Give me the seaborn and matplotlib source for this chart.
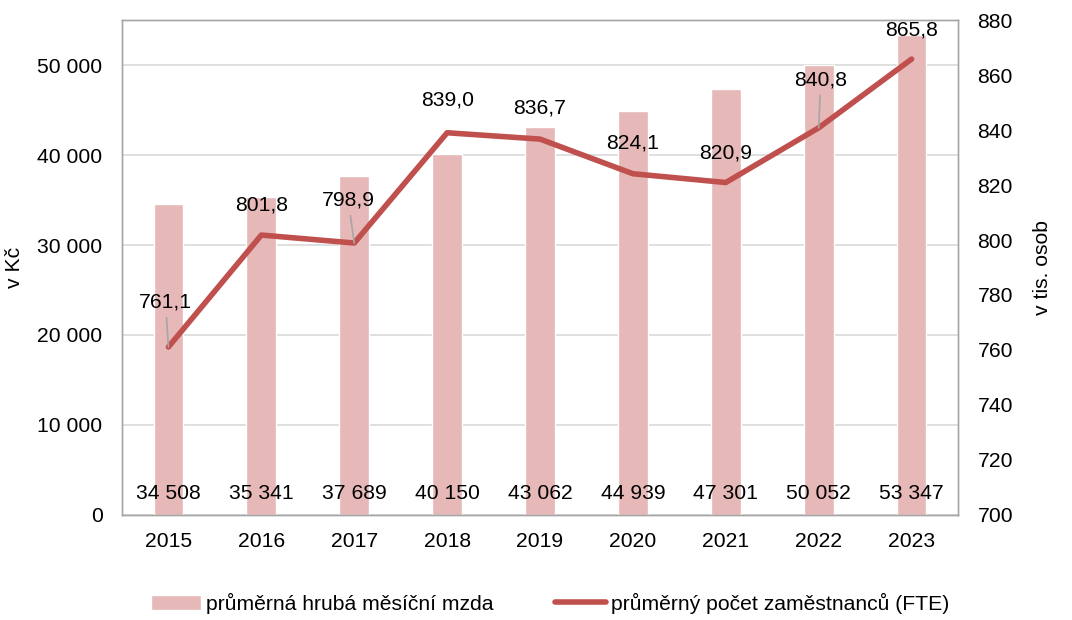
import numpy as np
import pandas as pd
import seaborn as sns
import matplotlib.pyplot as plt
from matplotlib.ticker import FuncFormatter

# data
years = ['2015', '2016', '2017', '2018', '2019', '2020', '2021', '2022', '2023']
wage = [34508, 35341, 37689, 40150, 43062, 44939, 47301, 50052, 53347]
staff = [761.1, 801.8, 798.9, 839.0, 836.7, 824.1, 820.9, 840.8, 865.8]

# label offsets above the line points (pixels) and which ones get a leader line
lab_dy = [45, 30, 43, 33, 31, 31, 30, 48, 29]
lab_dx = [-3, 0, -6, 0, 0, 0, 0, 2, 0]
leader = [True, False, True, False, False, False, False, True, False]

bar_col = '#E6B8B7'
line_col = '#C0504D'

sns.set_style('white')
plt.rcParams['font.family'] = ['Liberation Sans', 'DejaVu Sans']
plt.rcParams['text.color'] = 'black'
plt.rcParams['axes.labelcolor'] = 'black'
plt.rcParams['xtick.color'] = 'black'
plt.rcParams['ytick.color'] = 'black'

FS = 15.2

df = pd.DataFrame({'rok': years, 'mzda': wage, 'pocet': staff})

fig = plt.figure(figsize=(10.72, 6.2), dpi=100)
ax = fig.add_axes([0.1138, 0.1694, 0.7799, 0.7983])

sns.barplot(data=df, x='rok', y='mzda', color=bar_col, width=0.32,
            saturation=1, ax=ax, label='průměrná hrubá měsíční mzda')
ax.set_ylim(0, 55000)
ax.set_yticks(np.arange(0, 50001, 10000))
ax.yaxis.set_major_formatter(FuncFormatter(lambda v, p: f'{int(v):,}'.replace(',', ' ')))
ax.grid(axis='y', color='#D9D9D9', linewidth=1.2)
ax.set_axisbelow(True)
ax.set_xlabel('')
ax.set_ylabel('v Kč', fontsize=FS, labelpad=10)
ax.tick_params(length=0, labelsize=FS)
ax.tick_params(axis='y', pad=14)
ax.tick_params(axis='x', pad=12)
ax.set_xlim(-0.5, 8.5)

for i, w in enumerate(wage):
    ax.text(i, 2400, f'{w:,}'.replace(',', ' '), ha='center', va='center', fontsize=FS)

ax2 = ax.twinx()
sns.lineplot(x=np.arange(len(years)), y=staff, color=line_col, linewidth=4,
             ax=ax2, label='průměrný počet zaměstnanců (FTE)', legend=False)
ax2.set_ylim(700, 880)
ax2.set_yticks(np.arange(700, 881, 20))
ax2.set_ylabel('v tis. osob', fontsize=FS, labelpad=14)
ax2.tick_params(length=0, labelsize=FS, pad=14)
ax2.set_xlim(-0.5, 8.5)

for i, v in enumerate(staff):
    txt = f'{v:.1f}'.replace('.', ',')
    if leader[i]:
        ax2.annotate(txt, xy=(i, v), xytext=(lab_dx[i], lab_dy[i]),
                     textcoords='offset pixels', ha='center', va='center', fontsize=FS,
                     arrowprops=dict(arrowstyle='-', color='#A6A6A6', lw=1.2,
                                     shrinkA=2, shrinkB=0))
    else:
        ax2.annotate(txt, xy=(i, v), xytext=(lab_dx[i], lab_dy[i]),
                     textcoords='offset pixels', ha='center', va='center', fontsize=FS)

for a in (ax, ax2):
    for s in a.spines.values():
        s.set_color('#A6A6A6')
        s.set_linewidth(1)

h1, l1 = ax.get_legend_handles_labels()
h2, l2 = ax2.get_legend_handles_labels()
if ax.get_legend():
    ax.get_legend().remove()
fig.legend(h1 + h2, l1 + l2, loc='center', bbox_to_anchor=(0.513, 0.027), ncol=2,
           frameon=False, fontsize=FS, columnspacing=2.9, handlelength=2.4, handletextpad=0.25)

fig.savefig('out.png', dpi=100)
